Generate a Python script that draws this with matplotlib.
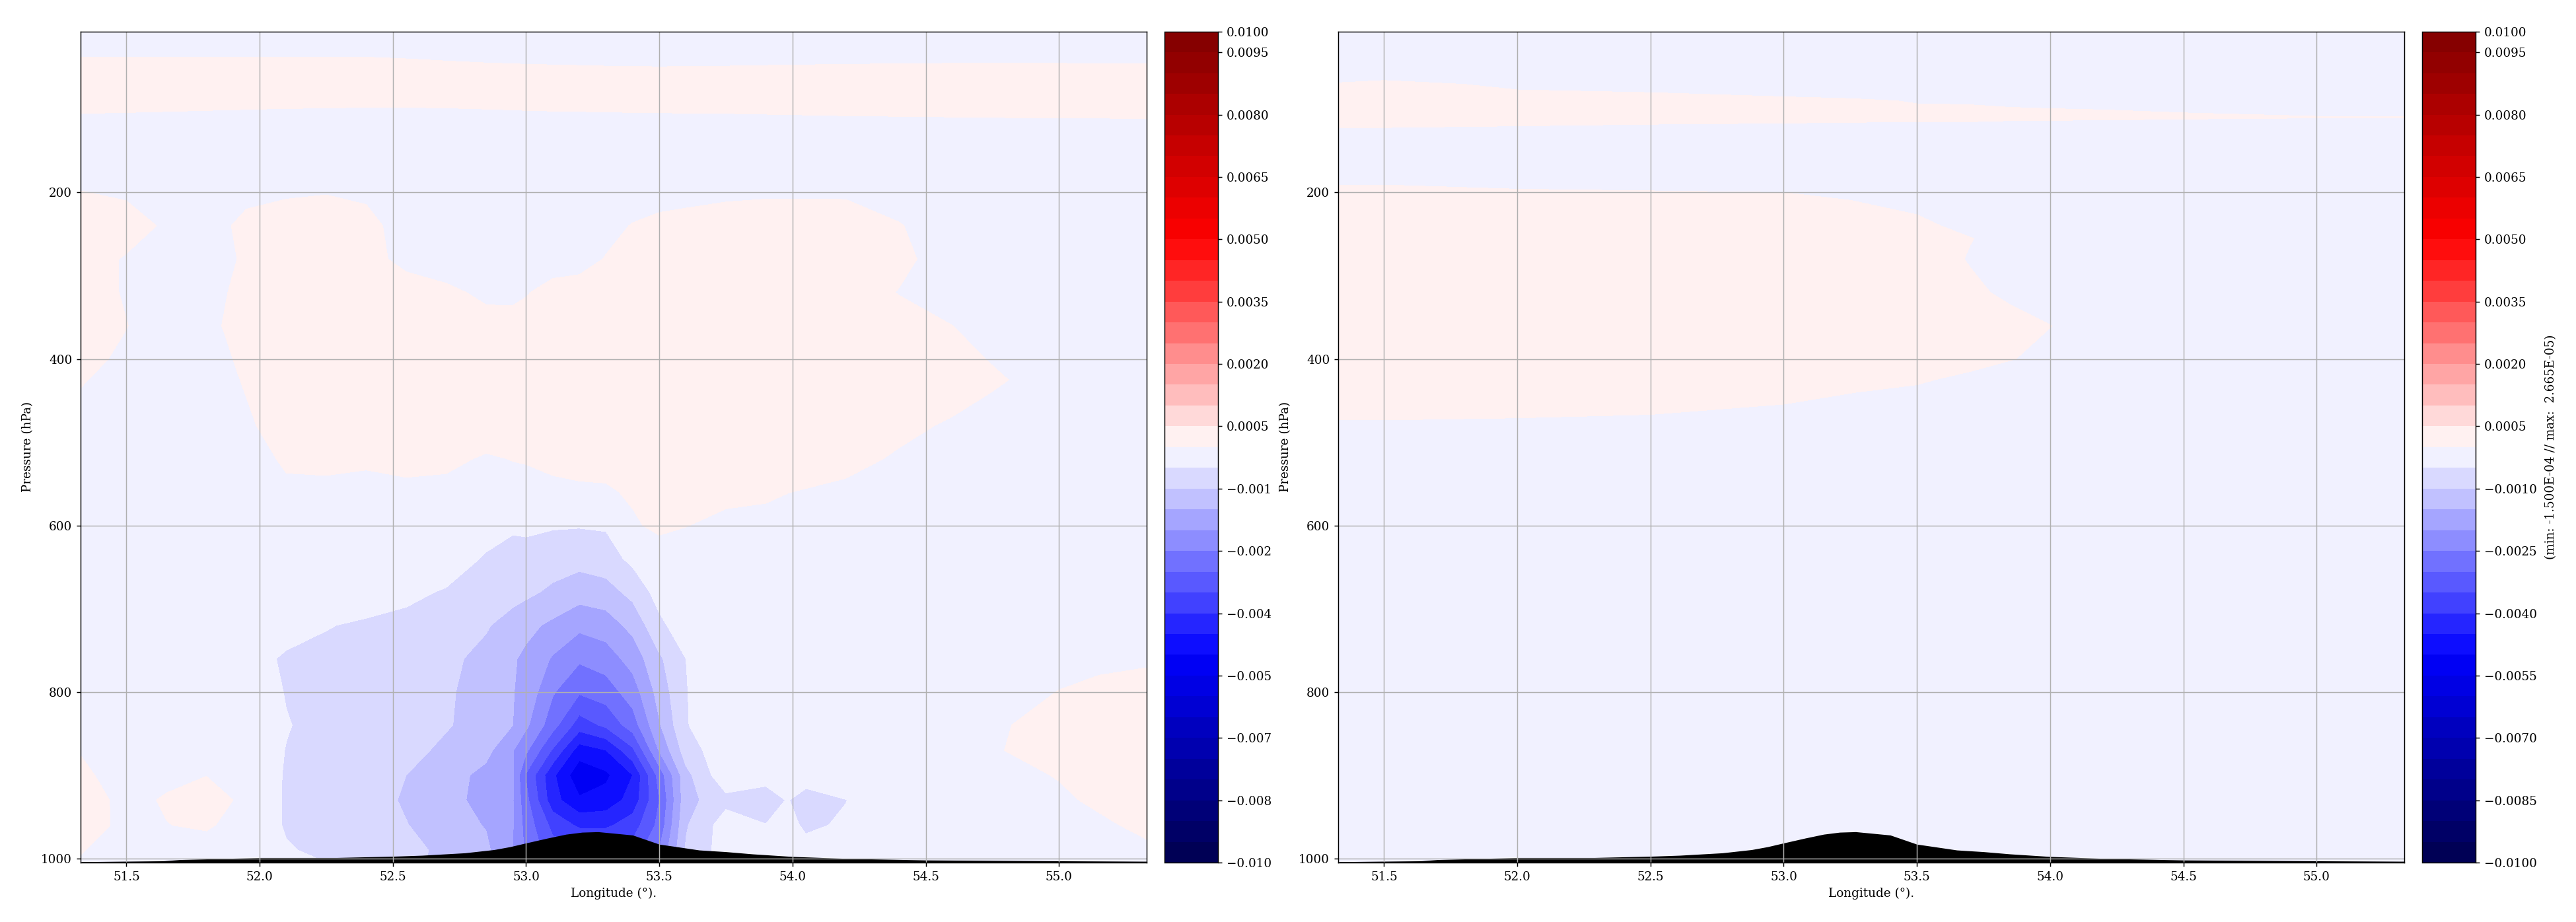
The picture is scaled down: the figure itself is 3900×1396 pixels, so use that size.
import numpy as np
import matplotlib
matplotlib.use("Agg")
import matplotlib.pyplot as plt
from matplotlib.patches import Rectangle

plt.rcParams['font.family'] = ['DejaVu Serif']

W, H, DPI = 3900, 1396, 132

lon_ticks = [51.5, 52.0, 52.5, 53.0, 53.5, 54.0, 54.5, 55.0]
p_ticks = [200, 400, 600, 800, 1000]
cb_ticks = [-0.01, -0.0085, -0.007, -0.0055, -0.004, -0.0025, -0.001, 0.0005,
            0.002, 0.0035, 0.005, 0.0065, 0.008, 0.0095, 0.01]
cb_labels = ['\u22120.0100', '\u22120.0085', '\u22120.0070', '\u22120.0055', '\u22120.0040',
             '\u22120.0025', '\u22120.0010', '0.0005', '0.0020', '0.0035', '0.0050',
             '0.0065', '0.0080', '0.0095', '0.0100']
xlabel = 'Longitude (\u00b0).'
ylabel = 'Pressure (hPa)'
right_note = '(min: -1.500E-04 // max:  2.665E-05)'

terrain_lon = [51.33, 51.64, 51.7, 52.0, 52.13, 52.29, 52.5, 52.61, 52.77, 52.88, 52.94, 53.0,
               53.08, 53.15, 53.21, 53.27, 53.4, 53.5, 53.55, 53.65, 53.75, 53.85, 54.0, 54.2,
               54.5, 55.0, 55.33]
terrain_p = [1004, 1003, 1001.5, 999, 999, 999, 997.5, 996.3, 993.4, 989.5, 986, 981.5,
             975.7, 971, 968.6, 968, 972, 983, 985.3, 990, 992, 994.7, 997.8, 1000,
             1002, 1003, 1003.5]

# Left field, units of 1e-4
left_lon = [51.33, 51.5, 51.65, 51.8, 51.95, 52.1, 52.25, 52.4, 52.55, 52.7, 52.85, 52.95, 53.0, 53.1, 53.2,
            53.3, 53.4, 53.5, 53.6, 53.75, 53.9, 53.98, 54.05, 54.2, 54.4, 54.6, 54.8, 55.0, 55.15, 55.33]
left_p = [7, 30, 50, 75, 100, 130, 170, 200, 240, 280, 320, 360, 400, 425, 440, 480, 520, 560, 600, 640, 680,
          720, 760, 800, 840, 870, 900, 930, 960, 990, 1005]
left_w = [
 [-1.5]*30,
 [-.7]*8 + [-.8, -.9] + [-1]*20,
 [1.3,1.3,1.3,1.3,1.3,1.3,1.3,1.2,.9,.6,.4,.3,.25,.2,.15,.1,.08,.05,.08,.1,.15,.2,.2,.25,.3,.35,.35,.35,.3,.3],
 [1.5]*30,
 [.2,.15,.1,.05,.01,-.05,-.1,-.15,-.15,-.1,-.01,.03,.05,.08,.1,.12,.15,.15,.2,.2,.25,.27,.3,.35,.4,.45,.5,.5,.55,.6],
 [-1]*30,
 [-1.5]*30,
 [.1,-.5,-.8,-.8,-.6,-.3,-.1,-.4,-.8,-1,-1,-1,-1,-1,-1,-1,-1,-.9,-.8,-.4,-.3,-.3,-.3,-.4,-.8,-1,-1,-1,-1,-1],
 [2,1.5,-.5,-1,.6,1.2,1.3,.7,-1,-1,-.8,-.7,-.6,-.5,-.5,-.6,.1,.6,.9,1,1.2,1.2,1.2,1.5,.1,-1,-1,-1,-1,-1],
 [1.5,-.3,-1,-1,.3,1.2,1.3,.6,-.5,-.8,-.8,-.8,-.7,-.7,-.7,.1,.8,1.2,1.4,1.5,1.5,1.5,1.5,1.5,.6,-1.2,-1.3,-1.3,-1.3,-1.3],
 [1,-.2,-1,-.7,.6,1.5,1.5,1.2,.8,.3,-.3,-.2,-.1,.5,.8,1,1.3,1.5,1.6,1.6,1.6,1.6,1.5,1.2,-.1,-1.2,-1.2,-1.2,-1.2,-1.2],
 [1,.05,-1,-.5,.8,1.8,2,1.8,1.5,1,.5,.3,.6,1,1.3,1.6,1.8,2,2,2,2,2,1.8,1.5,1,.01,-1,-1,-1,-1],
 [.6,-.4,-1,-.6,.3,1.5,2,2,1.8,1.5,1.3,1.3,1.3,1.5,1.6,1.8,2,2,2,2,2,2,1.8,1.5,1.2,.8,-.5,-1,-1,-1],
 [.15,-.8,-1.1,-.8,.15,1.3,1.8,1.9,1.7,1.5,1.3,1.3,1.3,1.4,1.5,1.7,1.8,1.9,1.9,1.9,1.9,1.8,1.7,1.5,1.2,.8,.06,-1,-1,-1],
 [-.1,-1,-1.2,-1,.05,1.2,1.6,1.8,1.6,1.5,1.3,1.3,1.3,1.4,1.5,1.6,1.6,1.8,1.8,1.8,1.8,1.7,1.6,1.4,1.2,.8,-.3,-1,-1,-1],
 [-1,-1.2,-1.2,-1.2,-.3,.9,1.2,1.3,1.2,1.1,1,1,1,1,1.1,1.1,1.2,1.3,1.3,1.2,1.1,1.1,1,.9,.6,-.3,-1,-1,-1,-1],
 [-1.2,-1.2,-1.2,-1.2,-.9,.3,.5,.4,.5,.4,-.2,.05,.1,.4,.6,.8,.9,1,.9,.9,.8,.8,.8,.7,-.3,-1,-1,-1,-1,-1],
 [-1.2,-1.2,-1.2,-1.2,-1.2,-.4,-.5,-.8,-.4,-.5,-.6,-.6,-.5,-.4,-.3,-.3,.3,.6,.6,.5,.3,.03,-.1,-.5,-.9,-1,-1,-1,-1,-1],
 [-1.2,-1.2,-1.2,-1.2,-1.2,-1,-1,-1,-1,-1.2,-3,-4.4,-4.2,-4.6,-4.7,-4.5,-.3,.5,.05,-.5,-.6,-.7,-.8,-1,-1,-1,-1,-1,-1,-1],
 [-1.2,-1.2,-1.2,-1.2,-1.2,-1,-1,-1.2,-1.5,-2.5,-5.5,-6.5,-6.5,-7.5,-8.3,-7.2,-3.8,-1.2,-1,-1,-1,-1,-1,-1,-1,-1,-1,-1,-1,-1],
 [-1.2,-1.2,-1.2,-1.2,-1.2,-1.5,-2,-2.8,-4,-5.4,-7,-8,-8.9,-11,-12.8,-12,-8.5,-3,-1.5,-.8,-.9,-.9,-.9,-.9,-.9,-.9,-.9,-.9,-.9,-.9],
 [-1.2,-1.2,-1.2,-1.2,-2,-3.5,-4.8,-5.6,-6.2,-7.5,-9.5,-12.3,-13.7,-16,-18.8,-17.5,-13.5,-6.2,-2,-.9,-.8,-.8,-.8,-.8,-.8,-.8,-.8,-.8,-.8,-.8],
 [-1,-1,-1,-1,-3.5,-5.5,-6,-6.8,-7.5,-8.8,-11.5,-14.5,-16,-20.5,-24.2,-22.5,-18,-10.8,-5,-1.2,-.8,-.8,-.8,-.8,-.8,-.8,-.8,-.8,-.8,-.3],
 [-1,-1,-1,-1.2,-2.5,-5.2,-6,-7,-7.7,-9.2,-12.5,-14.8,-16.5,-24.5,-29.4,-27.5,-22.5,-13,-5.2,-1.2,-.8,-.8,-.8,-.8,-.8,-.8,-.8,.05,.8,.8],
 [-1,-1,-1,-1.2,-2.8,-4.8,-6.2,-7,-8,-9.6,-12,-15,-19,-28,-37.5,-34,-27.5,-15.5,-5.3,-1.3,-.8,-.8,-.8,-.8,-.8,-.8,-.1,.8,1,1.2],
 [-.1,-1,-1,-1.2,-2.6,-5.1,-6.3,-7.5,-8.5,-11,-13.5,-19.7,-24,-35.5,-47.5,-45,-36,-19.5,-7.5,-1.5,-.9,-.8,-.8,-.8,-.8,-.8,.02,.8,1,1.2],
 [.3,-.7,-.5,-.05,-2.4,-5.3,-6.3,-7.5,-10,-12.8,-16.5,-19.5,-30.5,-44,-53.5,-51,-45,-28,-11.5,-1.3,-4.2,-3,-4.2,-2,-.8,-.8,-.5,.1,.8,1],
 [1,-.6,.2,1,-.5,-5.6,-6.3,-7.5,-10.7,-13,-17,-19.7,-28.5,-43,-49.3,-48,-43,-30,-11.8,-6.5,-6,-4.9,-5.7,-5.1,-1.5,-.9,-.8,-.3,.3,.9],
 [.9,-.5,-.05,.3,-1,-5.5,-6.3,-7.8,-9.8,-12.7,-15.3,-19.7,-27,-36.5,-41,-41,-37.5,-28.5,-10.5,-2.5,-4.95,-3.5,-5.8,-4.4,-1.5,-.9,-.8,-.8,-.3,.4],
 [.1,-1,-1,-1,-1.2,-4.6,-6,-7,-9,-10.8,-14,-20,-26,-33,-33,-33,-33,-25,-9.5,-2.5,-2.5,-2,-3.5,-2.5,-1.2,-.9,-.8,-.8,-.8,-.3],
 [-.2,-1,-1,-1,-1.2,-3,-5,-7,-9,-11,-14,-20,-26,-30,-30,-30,-30,-25,-9,-3,-2,-2,-2,-1.5,-1,-1,-1,-1,-1,-.8],
]

# Right field, units of 1e-5
right_lon = [51.33, 51.5, 52, 52.5, 53, 53.25, 53.5, 53.7, 53.85, 54, 54.2, 54.5, 55, 55.33]
right_p = [7, 50, 70, 90, 110, 130, 190, 210, 240, 255, 280, 320, 360, 400, 425, 440, 480, 1005]
right_w = [
 [-1]*14,
 [-.5,-.5,-.6,-.7,-.8,-.8,-.8,-.8,-.8,-.8,-.8,-.8,-.8,-.8],
 [.05,.15,-.1,-.2,-.3,-.3,-.3,-.3,-.3,-.3,-.3,-.3,-.3,-.3],
 [.3,.3,.2,.2,.1,.05,-.02,-.03,-.05,-.06,-.07,-.1,-.12,-.15],
 [.3,.3,.25,.2,.15,.12,.1,.1,.08,.07,.06,.04,.01,.01],
 [-.2,-.2,-.25,-.3,-.3,-.3,-.3,-.3,-.35,-.35,-.35,-.4,-.4,-.4],
 [-.05,-.05,-.3,-.4,-.5,-.6,-.7,-.8,-.8,-.8,-.8,-.8,-.8,-.8],
 [1,1,.7,.6,.5,.02,-.5,-.8,-.8,-.8,-.8,-.8,-.8,-.8],
 [1,1,1,1,1,.8,.4,-.5,-.8,-.8,-.8,-.8,-.8,-.8],
 [1,1,1,1,1,.9,.6,.05,-.5,-.8,-.8,-.8,-.8,-.8],
 [1,1,1,1,1,1,.8,-.1,-.6,-.8,-.8,-.8,-.8,-.8],
 [1,1,1.2,1.2,1.2,1,.8,.3,-.3,-.6,-.8,-.8,-.8,-.8],
 [1,1,1.5,2.665,1.5,1,.8,.6,.5,.02,-.5,-.8,-.8,-.8],
 [1,1,1.2,1.2,1.2,1,.8,.6,.05,-.3,-.6,-.8,-.8,-.8],
 [1,1,1.1,1,.8,.5,.2,-.4,-.6,-.7,-.8,-.8,-.8,-.8],
 [1,1,1,.8,.5,.03,-.3,-.5,-.6,-.7,-.8,-.8,-.8,-.8],
 [-.2,-.2,-.3,-.4,-.9,-1,-1,-1,-1,-1,-1,-1,-1,-1],
 [-1,-1,-2,-5,-10,-15,-10,-5,-2,-1,-1,-1,-1,-1],
]

levels = np.linspace(-0.01, 0.01, 41)
XLIM = (51.328, 55.329)
YLIM = (1005, 6.6)
AX_TOP, AX_BOTTOM = 47.7, 1306


def px_axes(fig, x0, x1, y0, y1, **kw):
    return fig.add_axes([x0 / W, 1 - y1 / H, (x1 - x0) / W, (y1 - y0) / H], **kw)


def panel(fig, off, lon, pres, field, unit, note=None, z=0):
    ax = px_axes(fig, 122 + off, 1736 + off, AX_TOP, AX_BOTTOM, zorder=z)
    cax = px_axes(fig, 1763 + off, 1844 + off, AX_TOP, AX_BOTTOM, zorder=z)
    cf = ax.contourf(np.array(lon), np.array(pres), np.array(field) * unit,
                     levels=levels, cmap='seismic')
    ax.fill_between(terrain_lon, terrain_p, 1010, color='black', lw=0)
    ax.set_xlim(*XLIM)
    ax.set_ylim(*YLIM)
    ax.set_xticks(lon_ticks)
    ax.set_yticks(p_ticks)
    ax.set_xticklabels([f'{v:.1f}' for v in lon_ticks])
    ax.grid(True)
    ax.set_xlabel(xlabel, fontsize=10)
    ax.set_ylabel(ylabel, fontsize=10)
    ax.yaxis.set_label_coords((51 - 122) / 1614, 0.5)
    cb = fig.colorbar(cf, cax=cax, ticks=cb_ticks)
    cb.ax.set_yticklabels(cb_labels)
    if note:
        cb.set_label(note, fontsize=10, labelpad=6.5)
    return ax, cax


fig = plt.figure(figsize=(W / DPI, H / DPI), dpi=DPI)
panel(fig, 0, left_lon, left_p, left_w, 1e-4, z=0)
fig.add_artist(Rectangle((1924 / W, 0), (2026 - 1924) / W, 1, transform=fig.transFigure,
                         facecolor='white', edgecolor='none', zorder=1))
panel(fig, 1904, right_lon, right_p, right_w, 1e-5, note=right_note, z=2)
fig.savefig('out.png', dpi=DPI)
